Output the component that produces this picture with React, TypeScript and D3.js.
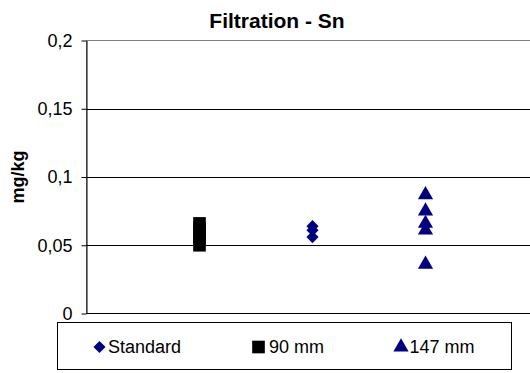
import { useEffect, useRef } from 'react';
import * as d3 from 'd3';

// series: x position on the hidden axis, and the Sn values (mg/kg)
const seriesNames = ['Standard', '90 mm', '147 mm'];
const seriesX = [2, 1, 3];
const standardValues = [0.064, 0.061, 0.056];
const mm90Values = [0.066, 0.062, 0.059, 0.055, 0.05];
const mm147Values = [0.087, 0.075, 0.066, 0.061, 0.036];
const yTicks = [0, 0.05, 0.1, 0.15, 0.2];

export default function App() {
  const chartRef = useRef<SVGSVGElement>(null);

  useEffect(() => {
    if (!chartRef.current) return;
    const svg = d3.select(chartRef.current);
    svg.selectAll('*').remove();

    const font = '"Liberation Sans", Arial, sans-serif';
    const left = 86.5, top = 40.5, bottom = 313.5;

    const x = d3.scaleLinear().domain([0, 4]).range([left, left + 452]);
    const y = d3.scaleLinear().domain([0, 0.2]).range([bottom, top]);

    // plot area border (grey)
    svg.append('rect')
      .attr('x', left).attr('y', top)
      .attr('width', 460).attr('height', bottom - top)
      .attr('fill', 'none').attr('stroke', '#808080').attr('stroke-width', 1);

    // horizontal grid
    svg.selectAll('.grid')
      .data(yTicks.filter(t => t > 0 && t < 0.2))
      .enter()
      .append('line')
      .attr('x1', left).attr('x2', 530)
      .attr('y1', d => Math.round(y(d)) + 0.5).attr('y2', d => Math.round(y(d)) + 0.5)
      .attr('stroke', '#000').attr('stroke-width', 1);

    // x axis line
    svg.append('line')
      .attr('x1', left).attr('x2', 530)
      .attr('y1', bottom).attr('y2', bottom)
      .attr('stroke', '#000');

    // y axis
    const yAxis = svg.append('g')
      .attr('transform', `translate(${left},0)`)
      .call(d3.axisLeft(y).tickValues(yTicks).tickSize(5).tickSizeOuter(0)
        .tickFormat(d => String(d).replace('.', ',')));
    yAxis.select('.domain').attr('stroke', '#000');
    yAxis.selectAll('line').attr('stroke', '#000');
    yAxis.selectAll('text')
      .attr('x', -14)
      .style('font-family', font)
      .style('font-size', '18px')
      .attr('fill', '#000');

    // title
    svg.append('text')
      .attr('x', 277).attr('y', 28)
      .attr('text-anchor', 'middle')
      .style('font-family', font).style('font-size', '21px').style('font-weight', 'bold')
      .text('Filtration - Sn');

    // y label
    svg.append('text')
      .attr('transform', `translate(24,${(top + bottom) / 2}) rotate(-90)`)
      .attr('text-anchor', 'middle')
      .style('font-family', font).style('font-size', '18px').style('font-weight', 'bold')
      .text('mg/kg');

    const navy = '#000080';
    // diamond = square turned 45 degrees
    const symbols = [
      { type: d3.symbolSquare, size: 74, color: navy, rot: 45 },
      { type: d3.symbolSquare, size: 160, color: '#000', rot: 0 },
      { type: d3.symbolTriangle, size: 100, color: navy, rot: 0 },
    ];
    const allValues = [standardValues, mm90Values, mm147Values];

    allValues.forEach((vals, i) => {
      const sym = d3.symbol().type(symbols[i].type).size(symbols[i].size);
      svg.selectAll(`.pt${i}`)
        .data(vals)
        .enter()
        .append('path')
        .attr('class', `pt${i}`)
        .attr('d', sym)
        .attr('transform', d => `translate(${x(seriesX[i])},${y(d)}) rotate(${symbols[i].rot})`)
        .attr('fill', symbols[i].color);
    });

    // legend
    const lg = svg.append('g');
    lg.append('rect')
      .attr('x', 57.5).attr('y', 322.5).attr('width', 454).attr('height', 47)
      .attr('fill', '#fff').attr('stroke', '#000');
    const legendX = [99.5, 258.5, 401];
    seriesNames.forEach((name, i) => {
      const sym = d3.symbol().type(symbols[i].type).size(symbols[i].size);
      lg.append('path')
        .attr('d', sym)
        .attr('transform', `translate(${legendX[i]},347) rotate(${symbols[i].rot})`)
        .attr('fill', symbols[i].color);
      lg.append('text')
        .attr('x', legendX[i] + (i === 1 ? 10.5 : 8.5)).attr('y', 353)
        .style('font-family', font).style('font-size', '18px')
        .text(name);
    });
  }, []);

  return (
    <svg ref={chartRef} width={530} height={373}
      style={{ position: 'absolute', left: 0, top: 0, background: '#fff' }} />
  );
}
